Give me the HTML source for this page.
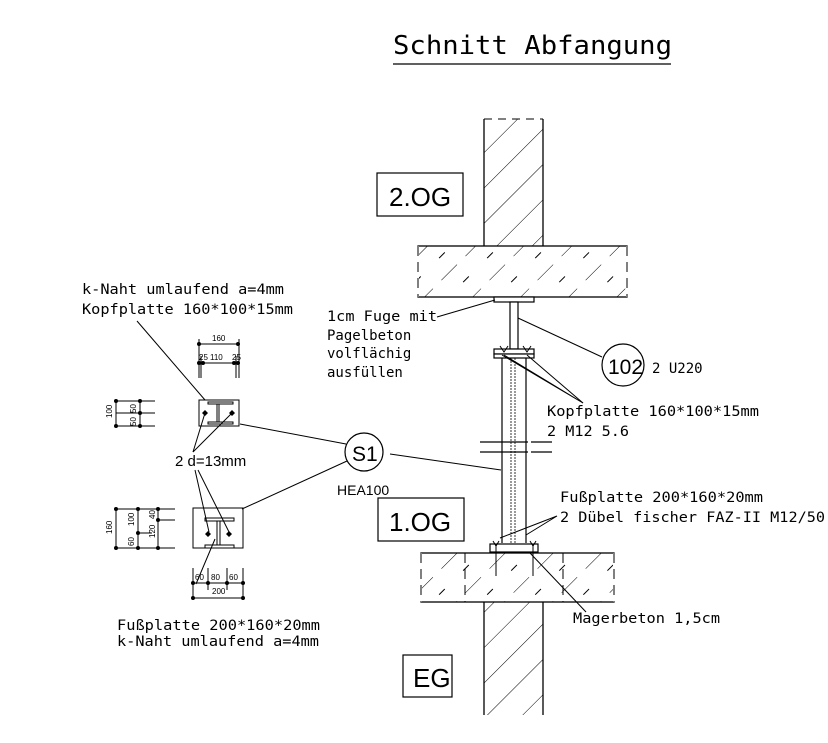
<!DOCTYPE html>
<html><head><meta charset="utf-8"><style>
html,body{margin:0;padding:0;background:#fff}
svg{display:block}
text{font-family:"DejaVu Sans Mono","Liberation Mono",monospace;fill:#000}
.s{font-family:"Liberation Sans","DejaVu Sans",sans-serif}
</style></head><body>
<svg width="828" height="743" viewBox="0 0 828 743" xmlns="http://www.w3.org/2000/svg">
<defs>
<pattern id="h" patternUnits="userSpaceOnUse" width="25" height="25" patternTransform="rotate(45)">
<line x1="0" y1="0" x2="0" y2="25" stroke="#000" stroke-width="1"/>
</pattern>
<pattern id="hd" patternUnits="userSpaceOnUse" width="34" height="34" patternTransform="rotate(45)">
<line x1="0" y1="0" x2="0" y2="34" stroke="#000" stroke-width="1" stroke-dasharray="22,12"/>
<line x1="17" y1="0" x2="17" y2="34" stroke="#000" stroke-width="1" stroke-dasharray="8,26"/>
</pattern>
</defs>

<text x="393" y="54" font-size="26" textLength="279" lengthAdjust="spacingAndGlyphs">Schnitt Abfangung</text>
<line x1="393" y1="64" x2="671" y2="64" stroke="#000" stroke-width="1.2"/>

<rect x="484" y="119" width="59" height="127" fill="url(#h)"/>
<path d="M484 119V246M543 119V246" stroke="#000" stroke-width="1.3" fill="none"/>
<line x1="484" y1="119" x2="543" y2="119" stroke="#000" stroke-dasharray="8,6"/>
<rect x="418" y="246" width="209" height="51" fill="url(#hd)" stroke="#000" stroke-width="1.3"/>
<line x1="418" y1="246" x2="418" y2="297" stroke="#fff" stroke-width="2"/>
<line x1="418" y1="246" x2="418" y2="297" stroke="#000" stroke-dasharray="10,6"/>
<line x1="627" y1="246" x2="627" y2="297" stroke="#fff" stroke-width="2"/>
<line x1="627" y1="246" x2="627" y2="297" stroke="#000" stroke-dasharray="10,6"/>

<rect x="377" y="173" width="86" height="43" fill="#fff" stroke="#000" stroke-width="1.2"/>
<text x="389" y="206" font-size="26" class="s">2.OG</text>

<g stroke="#000" stroke-width="1.2" fill="#fff">
<rect x="494" y="297" width="40" height="5"/>
<rect x="510" y="302" width="8" height="47"/>
<rect x="494" y="349" width="40" height="5"/>
<rect x="494" y="354" width="40" height="4"/>
</g>
<path d="M500 346l4 6 4-6M523 346l4 6 4-6" stroke="#000" fill="none"/>
<g stroke="#000" stroke-width="1.2">
<line x1="502" y1="358" x2="502" y2="543"/>
<line x1="526" y1="358" x2="526" y2="543"/>
<line x1="511" y1="358" x2="511" y2="543" stroke-width="0.8" stroke-dasharray="2,1"/>
<line x1="515" y1="358" x2="515" y2="543" stroke-width="0.8" stroke-dasharray="2,1"/>
<line x1="480" y1="442" x2="552" y2="442"/>
<line x1="480" y1="452" x2="552" y2="452"/>
</g>
<rect x="528" y="440" width="3" height="15" fill="#fff"/>
<rect x="490" y="544" width="48" height="8" fill="#fff" stroke="#000" stroke-width="1.2"/>
<path d="M493 541l3 5 3-5M530 541l3 5 3-5" stroke="#000" fill="none"/>
<line x1="496" y1="544" x2="496" y2="576" stroke="#000"/>
<line x1="533" y1="544" x2="533" y2="576" stroke="#000"/>

<rect x="421" y="553" width="193" height="49" fill="url(#hd)" stroke="#000" stroke-width="1.3"/>
<line x1="421" y1="553" x2="421" y2="602" stroke="#fff" stroke-width="2"/>
<line x1="421" y1="553" x2="421" y2="602" stroke="#000" stroke-dasharray="10,6"/>
<line x1="614" y1="553" x2="614" y2="602" stroke="#fff" stroke-width="2"/>
<line x1="614" y1="553" x2="614" y2="602" stroke="#000" stroke-dasharray="10,6"/>
<line x1="465" y1="553" x2="465" y2="602" stroke="#000" stroke-dasharray="10,6"/>
<line x1="563" y1="553" x2="563" y2="602" stroke="#000" stroke-dasharray="10,6"/>
<rect x="484" y="602" width="59" height="113" fill="url(#h)"/>
<path d="M484 602V715M543 602V715" stroke="#000" stroke-width="1.3" fill="none"/>

<rect x="378" y="498" width="86" height="43" fill="#fff" stroke="#000" stroke-width="1.2"/>
<text x="389" y="531" font-size="26" class="s">1.OG</text>
<rect x="403" y="655" width="49" height="42" fill="#fff" stroke="#000" stroke-width="1.2"/>
<text x="413" y="687" font-size="26" class="s">EG</text>

<circle cx="623" cy="365" r="21" fill="#fff" stroke="#000" stroke-width="1.2"/>
<text x="608" y="374" font-size="21" class="s">102</text>
<circle cx="364" cy="452" r="19" fill="#fff" stroke="#000" stroke-width="1.2"/>
<text x="352" y="461" font-size="21" class="s">S1</text>

<g stroke="#000" stroke-width="1" fill="none">
<line x1="437" y1="317" x2="495" y2="300"/>
<line x1="518" y1="318" x2="602" y2="357"/>
<polyline points="502,355 583,403 504,355"/>
<polyline points="527,355 583,403"/>
<line x1="390" y1="454" x2="501" y2="470"/>
<line x1="346" y1="444" x2="240" y2="424"/>
<line x1="347" y1="461" x2="242" y2="509"/>
<polyline points="500,538 557,516 526,535"/>
<line x1="530" y1="553" x2="586" y2="612"/>
<line x1="137" y1="321" x2="205" y2="400"/>
<line x1="196" y1="584" x2="215" y2="539"/>
<line x1="193" y1="452" x2="205" y2="413"/>
<line x1="193" y1="452" x2="232" y2="413"/>
<line x1="195" y1="470" x2="209" y2="532"/>
<line x1="198" y1="470" x2="229" y2="532"/>
</g>

<g stroke="#000" stroke-width="1" fill="none">
<rect x="199" y="400" width="40" height="26"/>
<rect x="208" y="402" width="25" height="2"/>
<rect x="208" y="422" width="25" height="2"/>
<rect x="217" y="404" width="2" height="18"/>
<line x1="199" y1="344" x2="238" y2="344"/>
<line x1="199" y1="363" x2="238" y2="363"/>
<path d="M199 339V378M201 356V378M236 356V378M239 339V378"/>
<path d="M116 401H155M116 413H155M116 426H155M116 401V426M140 401V426"/>
<rect x="193" y="508" width="50" height="40"/>
<rect x="205" y="518" width="29" height="3"/>
<rect x="205" y="545" width="29" height="3"/>
<rect x="217" y="521" width="3" height="24"/>
<path d="M116 509H175M160 520H175M116 548H175M116 509V548M138 509V548M158 509V548M138 533H152"/>
<path d="M193 568V600M208 568V590M227 568V590M243 568V600M193 583H243M193 598H243"/>
</g>
<g fill="#000">
<circle cx="199" cy="344" r="2"/><circle cx="238" cy="344" r="2"/>
<circle cx="199" cy="363" r="2"/><circle cx="203" cy="363" r="2"/><circle cx="234" cy="363" r="2"/><circle cx="238" cy="363" r="2"/>
<circle cx="116" cy="401" r="2"/><circle cx="116" cy="426" r="2"/><circle cx="140" cy="401" r="2"/><circle cx="140" cy="413" r="2"/><circle cx="140" cy="426" r="2"/>
<circle cx="116" cy="509" r="2"/><circle cx="116" cy="548" r="2"/><circle cx="138" cy="509" r="2"/><circle cx="138" cy="533" r="2"/><circle cx="138" cy="548" r="2"/><circle cx="158" cy="509" r="2"/><circle cx="158" cy="520" r="2"/><circle cx="158" cy="548" r="2"/>
<circle cx="193" cy="583" r="2"/><circle cx="208" cy="583" r="2"/><circle cx="227" cy="583" r="2"/><circle cx="243" cy="583" r="2"/><circle cx="193" cy="598" r="2"/><circle cx="243" cy="598" r="2"/>
<path d="M205 410l3 3-3 3-3-3zM232 410l3 3-3 3-3-3zM208 531l3 3-3 3-3-3zM229 531l3 3-3 3-3-3z"/>
</g>
<g font-size="8">
<text x="212" y="341" class="s">160</text>
<text x="199" y="360" class="s">25</text><text x="210" y="360" class="s">110</text><text x="232" y="360" class="s">25</text>
<text x="195" y="580" class="s">60</text><text x="211" y="580" class="s">80</text><text x="229" y="580" class="s">60</text>
<text x="212" y="594" class="s">200</text>
<text transform="translate(112,418) rotate(-90)" class="s">100</text>
<text transform="translate(136,426) rotate(-90)" class="s">50</text>
<text transform="translate(136,413) rotate(-90)" class="s">50</text>
<text transform="translate(112,534) rotate(-90)" class="s">160</text>
<text transform="translate(134,526) rotate(-90)" class="s">100</text>
<text transform="translate(134,546) rotate(-90)" class="s">60</text>
<text transform="translate(155,538) rotate(-90)" class="s">120</text>
<text transform="translate(155,519) rotate(-90)" class="s">40</text>
</g>

<g font-size="14">
<text x="82" y="294" textLength="202" lengthAdjust="spacingAndGlyphs">k-Naht umlaufend a=4mm</text>
<text x="82" y="314" textLength="211" lengthAdjust="spacingAndGlyphs">Kopfplatte 160*100*15mm</text>
<text x="327" y="321" textLength="110" lengthAdjust="spacingAndGlyphs">1cm Fuge mit</text>
<text x="327" y="340">Pagelbeton</text>
<text x="327" y="358">volflächig</text>
<text x="327" y="377">ausfüllen</text>
<text x="652" y="373">2 U220</text>
<text x="547" y="416" textLength="212" lengthAdjust="spacingAndGlyphs">Kopfplatte 160*100*15mm</text>
<text x="547" y="436" textLength="82" lengthAdjust="spacingAndGlyphs">2 M12 5.6</text>
<text x="560" y="502" textLength="203" lengthAdjust="spacingAndGlyphs">Fußplatte 200*160*20mm</text>
<text x="560" y="522" textLength="265" lengthAdjust="spacingAndGlyphs">2 Dübel fischer FAZ-II M12/50</text>
<text x="573" y="623" textLength="147" lengthAdjust="spacingAndGlyphs">Magerbeton 1,5cm</text>
<text x="117" y="630" textLength="203" lengthAdjust="spacingAndGlyphs">Fußplatte 200*160*20mm</text>
<text x="117" y="646" textLength="202" lengthAdjust="spacingAndGlyphs">k-Naht umlaufend a=4mm</text>
</g>
<text x="337" y="495" font-size="14" class="s">HEA100</text>
<text x="175" y="466" font-size="15" class="s">2  d=13mm</text>
</svg>
</body></html>
